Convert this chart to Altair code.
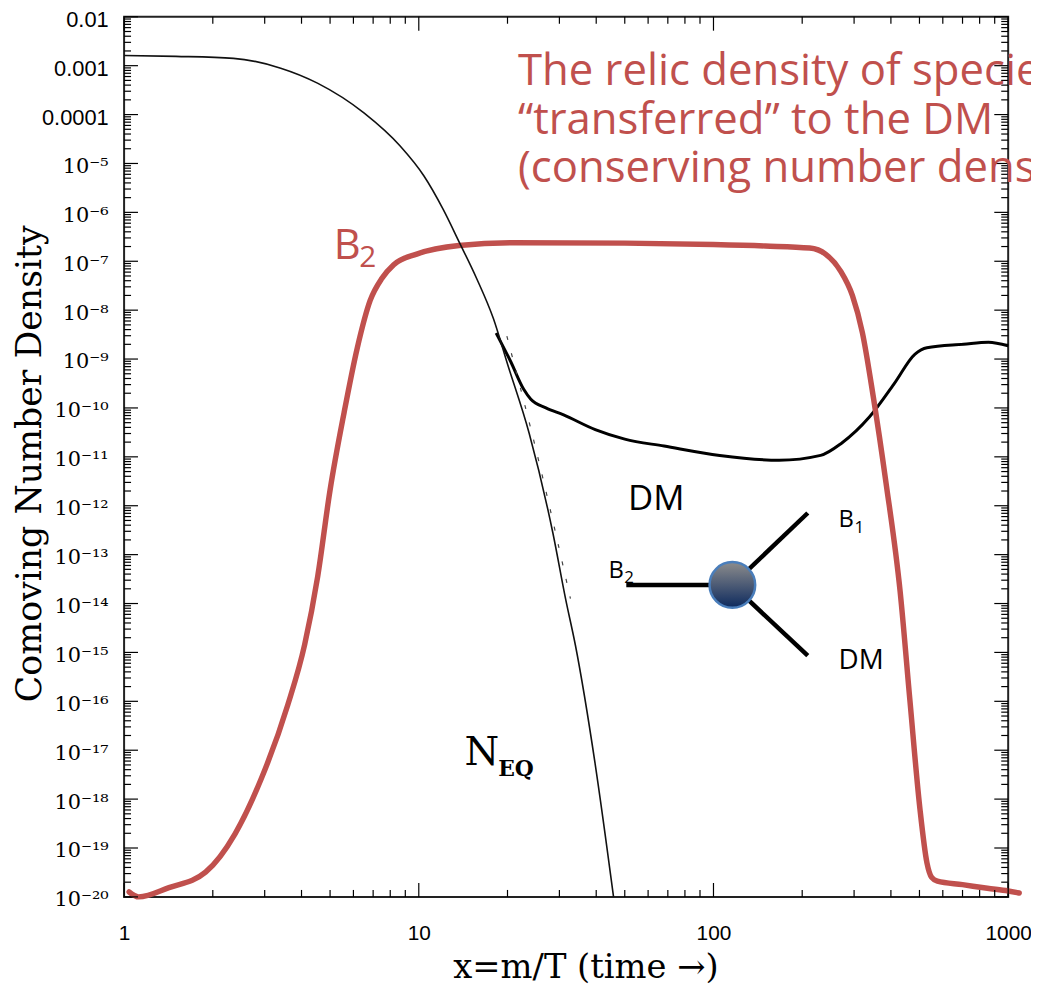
import json
import altair as alt
import pandas as pd

# ---------------- data ----------------
# equilibrium curve N_EQ
neq_x = [1.0, 1.5, 2.35, 3.4, 4.53, 6.53, 8.63, 10.4, 12.1, 13.7, 15.7, 17.9,
         20.0, 23.7, 28.5, 31.5, 34.0, 39.7, 45.8]
neq_y = [1.62e-3, 1.55e-3, 1.41e-3, 8.9e-4, 4.4e-4, 1.07e-4, 2.3e-5, 5.6e-6,
         1.15e-6, 2.5e-7, 4.5e-8, 6.8e-9, 7.9e-10, 3.0e-11, 2.8e-13, 1.23e-14,
         1.4e-15, 5.1e-18, 1.0e-20]

# faint dashed companion of N_EQ
dash_x = [19.9, 25.5, 32.7]
dash_y = [2.95e-9, 8.5e-12, 1.26e-14]

# dark matter curve
dm_x = [18.3, 20.5, 22.7, 24.0, 27.0, 31.0, 39.7, 50.0, 68.0, 105.0, 167.0,
        231.0, 272.0, 338.0, 410.0, 483.0, 530.0, 705.0, 857.0, 1000.0]
dm_y = [3.4e-9, 8.9e-10, 2.4e-10, 1.5e-10, 1.0e-10, 7.2e-11, 3.6e-11, 2.3e-11,
        1.66e-11, 1.07e-11, 8.5e-12, 1.07e-11, 1.9e-11, 6.5e-11, 3.1e-10,
        1.26e-9, 1.7e-9, 2.0e-9, 2.2e-9, 1.86e-9]

# B2 curve
b2_x = [1.04, 1.12, 1.42, 1.89, 2.38, 2.92, 3.59, 4.1, 4.54, 5.0, 5.58, 6.18,
        6.84, 7.5, 8.22, 9.84, 13.7, 21.3, 50.0, 100.0, 150.0, 212.0, 240.0,
        270.0, 296.0, 320.0, 348.0, 385.0, 430.0, 464.0, 502.0, 530.0, 550.0,
        575.0, 700.0, 850.0, 1000.0, 1090.0]
b2_y = [1.26e-20, 1.0e-20, 1.55e-20, 3.2e-20, 1.95e-19, 2.6e-18, 8.3e-17,
        1.45e-15, 3.6e-14, 2.1e-12, 8.1e-11, 1.66e-9, 1.58e-8, 4.5e-8, 8.5e-8,
        1.4e-7, 2.1e-7, 2.4e-7, 2.35e-7, 2.2e-7, 2.05e-7, 1.86e-7, 1.4e-7,
        6.3e-8, 2.0e-8, 3.5e-9, 1.8e-10, 2.95e-12, 1.74e-14, 1.05e-16, 6.2e-19,
        5.0e-20, 2.5e-20, 2.1e-20, 1.78e-20, 1.5e-20, 1.32e-20, 1.2e-20]

# tick labels
y_tick_labels = ["0.01", "0.001", "0.0001", "10⁻⁵", "10⁻⁶", "10⁻⁷", "10⁻⁸",
                 "10⁻⁹", "10⁻¹⁰", "10⁻¹¹", "10⁻¹²", "10⁻¹³", "10⁻¹⁴", "10⁻¹⁵",
                 "10⁻¹⁶", "10⁻¹⁷", "10⁻¹⁸", "10⁻¹⁹", "10⁻²⁰"]
x_tick_labels = ["1", "10", "100", "1000"]

# annotation anchors (data coordinates)
red_lines = ["The relic density of species",
             "\u201ctransferred\u201d to the DM",
             "(conserving number density)"]
red_x = [21.7, 21.7, 21.7]
red_y = [4.0e-4, 4.0e-5, 4.1e-6]

# decay diagram: B2 -> B1 + DM
seg_x = [50.6, 115.9, 115.9]
seg_y = [2.4e-14, 2.4e-14, 2.4e-14]
seg_x2 = [115.9, 208.9, 208.9]
seg_y2 = [2.4e-14, 7.1e-13, 8.6e-16]
blob_x = [115.9]
blob_y = [2.4e-14]

# ---------------- scales / axes ----------------
X_SCALE = alt.Scale(type="log", domain=[1, 1000], nice=False)
Y_SCALE = alt.Scale(type="log", domain=[1e-20, 1e-2], nice=False)
W, H = 891, 887
RED = "#c0504d"

y_tick_values = [10.0 ** -n for n in range(2, 21)]
x_tick_values = [1, 10, 100, 1000]
y_minor = [k * 10.0 ** n for n in range(-20, -2) for k in range(2, 10)]
x_minor = [k * 10.0 ** n for n in range(0, 3) for k in range(2, 10)]

y_label_expr = json.dumps(y_tick_labels, ensure_ascii=False) + \
    "[round(-log(datum.value)/LN10) - 2]"
x_label_expr = json.dumps(x_tick_labels) + "[round(log(datum.value)/LN10)]"

X_AXIS = alt.Axis(
    values=x_tick_values, labelExpr=x_label_expr, labelFont="Liberation Sans",
    labelFontSize=21, labelColor="black", labelPadding=26, labelFlush=False,
    labelOverlap=False, ticks=False, tickSize=0, domain=False, grid=False,
    title="x=m/T (time →)", titleFont="DejaVu Serif", titleFontSize=34,
    titleFontWeight="normal", titleColor="black", titleX=465, titleY=81,
    titleBaseline="alphabetic", titleAlign="center")

SANS_TEST = "datum.value > 0.00005"
Y_AXIS = alt.Axis(
    values=y_tick_values, labelExpr=y_label_expr,
    labelFont={"condition": {"test": SANS_TEST, "value": "Liberation Sans"},
               "value": "DejaVu Serif"},
    labelFontSize={"condition": {"test": SANS_TEST, "value": 22}, "value": 21},
    labelColor="black", labelPadding=16, labelOffset=3, labelFlush=False,
    labelOverlap=False, ticks=False, tickSize=0, domain=False, grid=False,
    title="Comoving Number Density", titleFont="DejaVu Serif", titleFontSize=35,
    titleFontWeight="normal", titleColor="black", titleX=-95, titleY=450,
    titleAngle=270, titleBaseline="middle", titleAlign="center")


def xq(field="x"):
    return alt.X(f"{field}:Q", scale=X_SCALE, axis=X_AXIS)


def yq(field="y"):
    return alt.Y(f"{field}:Q", scale=Y_SCALE, axis=Y_AXIS)


layers = []

# ---- curves ----
dm = alt.Chart(pd.DataFrame({"x": dm_x, "y": dm_y})).mark_line(
    color="black", strokeWidth=3, interpolate="monotone"
).encode(x=xq(), y=yq())

b2 = alt.Chart(pd.DataFrame({"x": b2_x, "y": b2_y})).mark_line(
    color=RED, strokeWidth=5.5, interpolate="monotone", strokeCap="round"
).encode(x=xq(), y=yq())

dash = alt.Chart(pd.DataFrame({"x": dash_x, "y": dash_y})).mark_line(
    color="#444444", strokeWidth=1.2, strokeDash=[4, 14], interpolate="monotone"
).encode(x=xq(), y=yq())

neq = alt.Chart(pd.DataFrame({"x": neq_x, "y": neq_y})).mark_line(
    color="#111111", strokeWidth=1.6, interpolate="monotone"
).encode(x=xq(), y=yq())

layers += [dm, b2, dash, neq]


# ---- inward ticks on all four sides ----
def vticks(values, length, right=False):
    x0 = W if right else 0
    x1 = W - length if right else length
    return alt.Chart(pd.DataFrame({"y": values})).mark_rule(
        color="black", strokeWidth=1.2
    ).encode(y=yq(), x=alt.value(x0), x2=alt.value(x1))


def hticks(values, length, top=False):
    y0 = 0 if top else H
    y1 = length if top else H - length
    return alt.Chart(pd.DataFrame({"x": values})).mark_rule(
        color="black", strokeWidth=1.2
    ).encode(x=xq(), y=alt.value(y0), y2=alt.value(y1))


layers += [vticks(y_tick_values, 14), vticks(y_minor, 7),
           vticks(y_tick_values, 14, True), vticks(y_minor, 7, True),
           hticks(x_tick_values, 14), hticks(x_minor, 7),
           hticks(x_tick_values, 14, True), hticks(x_minor, 7, True)]

# ---- decay diagram ----
segs = alt.Chart(pd.DataFrame({"x": seg_x, "y": seg_y, "x2": seg_x2, "y2": seg_y2})).mark_rule(
    color="black", strokeWidth=4.5
).encode(x=xq(), y=yq(), x2="x2:Q", y2="y2:Q")

blob = alt.Chart(pd.DataFrame({"x": blob_x, "y": blob_y})).mark_point(
    shape="circle", filled=True, size=2116, opacity=1,
    fill={"gradient": "linear", "x1": 0, "y1": 0, "x2": 0, "y2": 1,
          "stops": [{"offset": 0, "color": "#8c8c8c"},
                    {"offset": 1, "color": "#0d2a5e"}]},
    stroke="#4a7ebb", strokeWidth=2.5
).encode(x=xq(), y=yq())

layers += [segs, blob]


# ---- text annotations ----
def label(texts, xs, ys, size, color="black", font="Open Sans", weight="normal"):
    df = pd.DataFrame({"x": xs, "y": ys, "t": texts})
    return alt.Chart(df).mark_text(
        align="left", baseline="alphabetic", font=font, fontSize=size,
        color=color, fontWeight=weight
    ).encode(x=xq(), y=yq(), text="t:N")


layers += [
    label(red_lines, red_x, red_y, 44, RED),
    label(["B"], [5.15], [1.12e-7], 42, RED),
    label(["2"], [6.28], [7.7e-8], 30, RED),
    label(["DM"], [51.3], [8.3e-13], 35),
    label(["B"], [44.0], [3.4e-14], 24),
    label(["2"], [49.8], [2.6e-14], 17),
    label(["B"], [265.6], [3.7e-13], 24),
    label(["1"], [300.8], [2.8e-13], 17),
    label(["DM"], [265.6], [4.66e-16], 28),
    label(["N"], [14.29], [5.0e-18], 40, font="DejaVu Serif"),
    label(["EQ"], [18.6], [3.0e-18], 22, font="DejaVu Serif", weight="bold"),
]

chart = alt.layer(*layers).properties(
    width=W, height=H,
    autosize=alt.AutoSizeParams(type="none"),
    padding={"left": 117, "top": 5, "right": 23, "bottom": 92},
).configure_view(stroke="#222222", strokeWidth=2)

chart.save("out.html", embed_options={"renderer": "svg", "actions": False})
